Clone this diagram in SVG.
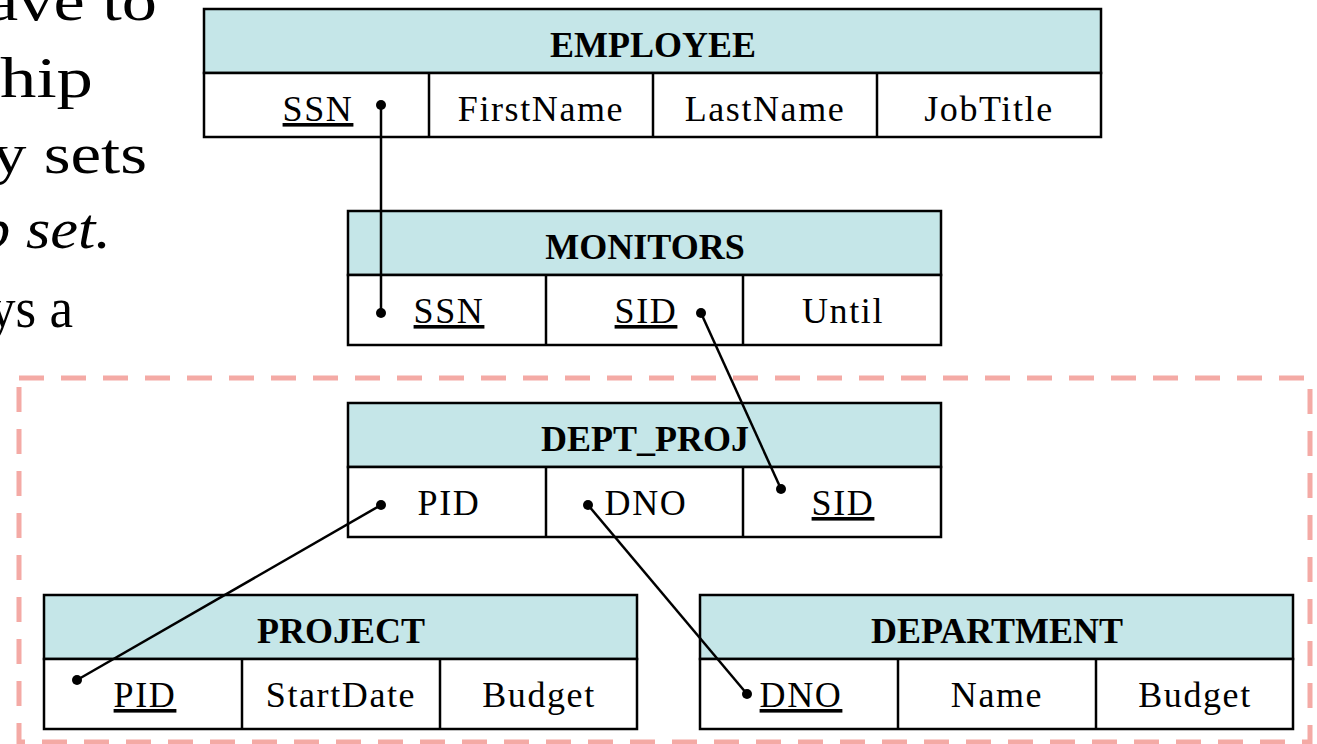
<svg xmlns="http://www.w3.org/2000/svg" width="1317" height="744" viewBox="0 0 1317 744">
  <style>
    .hdr { fill: #c5e6e8; stroke: #000; stroke-width: 2.5; }
    .row { fill: #fff; stroke: #000; stroke-width: 2.5; }
    .div { stroke: #000; stroke-width: 2.5; }
    .title { font-family: "Liberation Serif", "Times New Roman", serif; font-weight: bold; font-size: 36px; text-anchor: middle; fill: #000; }
    .cell { font-family: "Liberation Serif", "Times New Roman", serif; font-size: 36px; letter-spacing: 1.6px; text-anchor: middle; fill: #000; }
    .key { text-decoration: underline; }
    .body { font-family: "Liberation Serif", "Times New Roman", serif; font-size: 58px; text-anchor: end; fill: #000; }
    .link { stroke: #000; stroke-width: 2.5; fill: none; }
    .dot { fill: #000; }
  </style>

  <!-- bullet text running along the left edge -->
  <g id="side-text">
    <text class="body" x="157" y="20" textLength="170" lengthAdjust="spacingAndGlyphs">ave to</text>
    <text class="body" x="93" y="97" textLength="93" lengthAdjust="spacingAndGlyphs">hip</text>
    <text class="body" x="147" y="173" textLength="155" lengthAdjust="spacingAndGlyphs">y sets</text>
    <text class="body" x="111" y="248" font-style="italic" textLength="132" lengthAdjust="spacingAndGlyphs">p set.</text>
    <text class="body" x="73" y="327" font-size="44px" textLength="84" lengthAdjust="spacingAndGlyphs">ys a</text>
  </g>

  <!-- grouping frame around the aggregated relationship -->
  <rect id="aggregate-frame" x="19" y="378" width="1291" height="364" fill="none" stroke="#f4aaa5" stroke-width="5" stroke-dasharray="25 17"/>

  <g id="employee">
    <rect class="hdr" x="204" y="9" width="897" height="64"/>
    <rect class="row" x="204" y="73" width="897" height="64"/>
    <line class="div" x1="429" y1="73" x2="429" y2="137"/>
    <line class="div" x1="653" y1="73" x2="653" y2="137"/>
    <line class="div" x1="877" y1="73" x2="877" y2="137"/>
    <text class="title" x="653" y="57">EMPLOYEE</text>
    <text class="cell key" x="318" y="121">SSN</text>
    <text class="cell" x="541" y="121">FirstName</text>
    <text class="cell" x="765" y="121">LastName</text>
    <text class="cell" x="989" y="121">JobTitle</text>
  </g>

  <g id="monitors">
    <rect class="hdr" x="348" y="211" width="593" height="64"/>
    <rect class="row" x="348" y="275" width="593" height="70"/>
    <line class="div" x1="546" y1="275" x2="546" y2="345"/>
    <line class="div" x1="743" y1="275" x2="743" y2="345"/>
    <text class="title" x="645" y="259">MONITORS</text>
    <text class="cell key" x="449" y="323">SSN</text>
    <text class="cell key" x="646" y="323">SID</text>
    <text class="cell" x="843" y="323">Until</text>
  </g>

  <g id="dept-proj">
    <rect class="hdr" x="348" y="403" width="593" height="64"/>
    <rect class="row" x="348" y="467" width="593" height="70"/>
    <line class="div" x1="546" y1="467" x2="546" y2="537"/>
    <line class="div" x1="743" y1="467" x2="743" y2="537"/>
    <text class="title" x="645" y="451">DEPT_PROJ</text>
    <text class="cell" x="449" y="515">PID</text>
    <text class="cell" x="646" y="515">DNO</text>
    <text class="cell key" x="843" y="515">SID</text>
  </g>

  <g id="project">
    <rect class="hdr" x="44" y="595" width="593" height="64"/>
    <rect class="row" x="44" y="659" width="593" height="70"/>
    <line class="div" x1="242" y1="659" x2="242" y2="729"/>
    <line class="div" x1="440" y1="659" x2="440" y2="729"/>
    <text class="title" x="341" y="643">PROJECT</text>
    <text class="cell key" x="145" y="707">PID</text>
    <text class="cell" x="341" y="707">StartDate</text>
    <text class="cell" x="539" y="707">Budget</text>
  </g>

  <g id="department">
    <rect class="hdr" x="700" y="595" width="593" height="64"/>
    <rect class="row" x="700" y="659" width="593" height="70"/>
    <line class="div" x1="898" y1="659" x2="898" y2="729"/>
    <line class="div" x1="1096" y1="659" x2="1096" y2="729"/>
    <text class="title" x="997" y="643">DEPARTMENT</text>
    <text class="cell key" x="801" y="707">DNO</text>
    <text class="cell" x="997" y="707">Name</text>
    <text class="cell" x="1195" y="707">Budget</text>
  </g>

  <!-- foreign-key links, a dot at each end -->
  <g id="connectors">
    <line class="link" x1="381" y1="105" x2="381" y2="313"/>
    <circle class="dot" cx="381" cy="105" r="5"/>
    <circle class="dot" cx="381" cy="313" r="5"/>

    <line class="link" x1="701" y1="313" x2="781" y2="489"/>
    <circle class="dot" cx="701" cy="313" r="5"/>
    <circle class="dot" cx="781" cy="489" r="5"/>

    <line class="link" x1="381" y1="505" x2="77" y2="680"/>
    <circle class="dot" cx="381" cy="505" r="5"/>
    <circle class="dot" cx="77" cy="680" r="5"/>

    <line class="link" x1="588" y1="505" x2="747" y2="694"/>
    <circle class="dot" cx="588" cy="505" r="5"/>
    <circle class="dot" cx="747" cy="694" r="5"/>
  </g>
</svg>
